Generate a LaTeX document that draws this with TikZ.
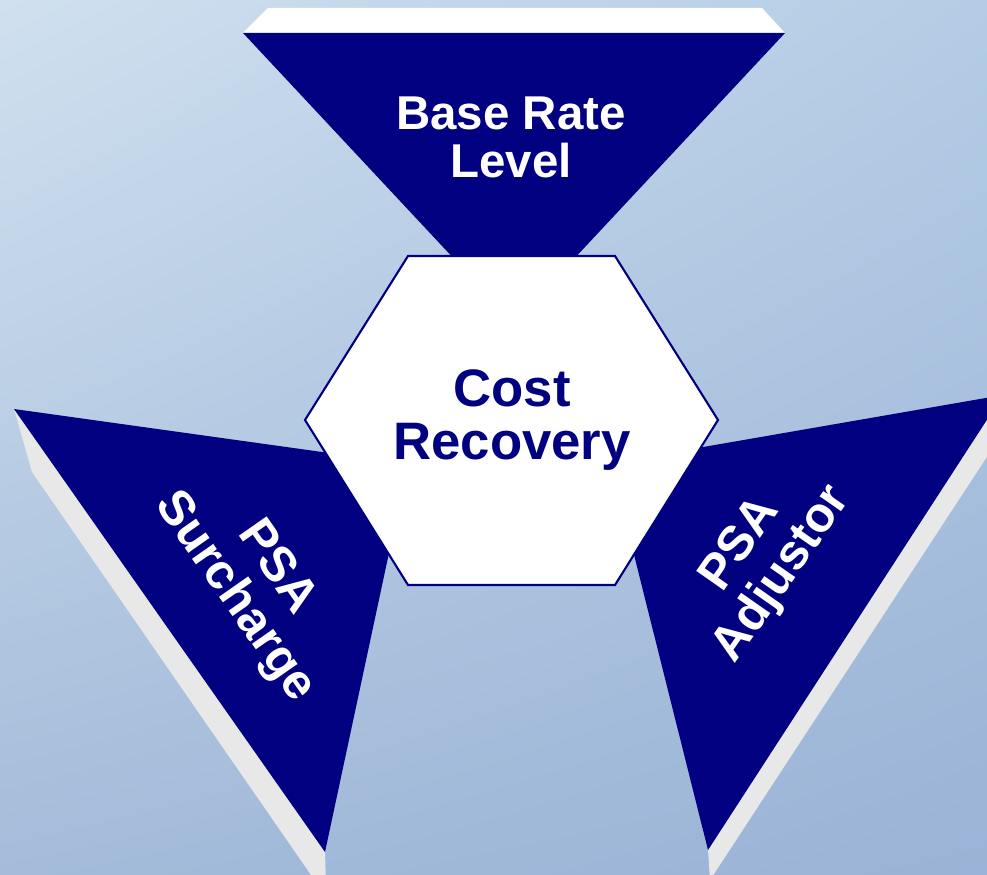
\documentclass[tikz,border=0pt]{standalone}
\usepackage{fontspec}
\setmainfont{Liberation Sans}
\usepackage{xcolor}
\usepackage{tikz}
\usetikzlibrary{shadings}
\definecolor{navy}{HTML}{000080}
\definecolor{bevel}{HTML}{E8E8E8}
\definecolor{bgTL}{HTML}{D0E0EF}
\definecolor{bgTR}{HTML}{B4CCE5}
\definecolor{bgBL}{HTML}{A4BCDA}
\definecolor{bgBR}{HTML}{9AB3D6}
\tikzset{
  face/.style={fill=navy, draw=none},
  side/.style={fill=bevel, draw=none},
  topside/.style={fill=white, draw=none},
  hex/.style={fill=white, draw=navy, line width=0.6pt, line join=miter},
  labw/.style={text=white, align=center, inner sep=0pt,
    font=\fontsize{14}{14.5}\selectfont\bfseries},
  labt/.style={labw, font=\fontsize{13.5}{13.7}\selectfont\bfseries},
  labc/.style={text=navy, align=center, inner sep=0pt,
    font=\fontsize{15}{15.1}\selectfont\bfseries}
}

\begin{document}
\begin{tikzpicture}[x=0.1mm, y=-0.1mm]
  \useasboundingbox (0,0) rectangle (987,875);
  \shade[upper left=bgTL, upper right=bgTR, lower left=bgBL, lower right=bgBR]
    (0,0) rectangle (987,875);

  % top wedge
  \coordinate (T1) at (243,33);
  \coordinate (T2) at (785,33);
  \coordinate (T3) at (514,323);
  \fill[topside] (T1) -- (268,8) -- (762,8) -- (T2) -- cycle;
  \fill[face] (T1) -- (T2) -- (T3) -- cycle;

  % left wedge
  \coordinate (L1) at (14,409);
  \coordinate (L2) at (408,464);
  \coordinate (L3) at (325,852);
  \fill[side] (L1) -- (32,472) -- (318,885) -- (326,885) -- (L3) -- cycle;
  \fill[face] (L1) -- (L2) -- (L3) -- cycle;

  % right wedge
  \coordinate (R1) at (1003,395);
  \coordinate (R2) at (611,463);
  \coordinate (R3) at (708,850);
  \fill[side] (R1) -- (1011,420) -- (710,880) -- (R3) -- cycle;
  \fill[face] (R1) -- (R2) -- (R3) -- cycle;

  % hexagon
  \draw[hex] (408,256) -- (615,256) -- (718,420) -- (615,585)
    -- (408,585) -- (305,420) -- cycle;

  \node[labc] (cost) at (512,420) {Cost\\Recovery};
  \node[labt] (base) at (511,137) {Base Rate\\Level};
  \node[labw, rotate=-55] (surch) at (255,583) {PSA\\Surcharge};
  \node[labw, rotate=55] (adj) at (762,560) {PSA\\Adjustor};
\end{tikzpicture}
\end{document}
